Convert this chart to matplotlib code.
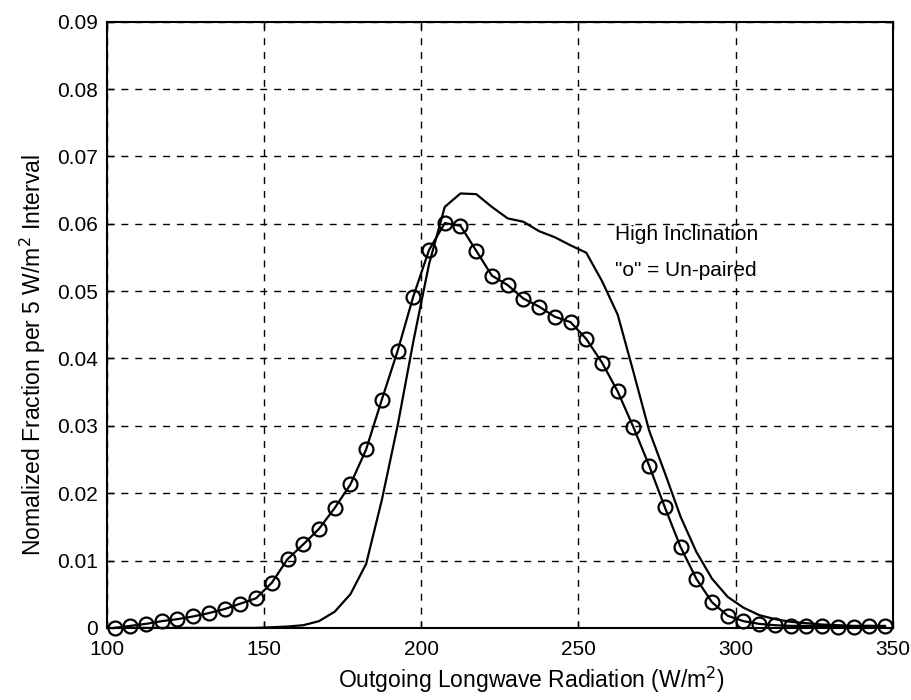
import numpy as np
import matplotlib
matplotlib.use('Agg')
import matplotlib.pyplot as plt

# bin centres of the 5 W/m^2 intervals
olr = np.arange(102.5, 350, 5)

unpaired = [0.0, 0.0003, 0.0006, 0.0010, 0.0013, 0.0017, 0.0022, 0.0028, 0.0036, 0.0044,
            0.0067, 0.0102, 0.0124, 0.0147, 0.0178, 0.0213, 0.0265, 0.0339, 0.0411, 0.0492,
            0.0561, 0.0601, 0.0597, 0.0560, 0.0523, 0.0509, 0.0489, 0.0477, 0.0462, 0.0454,
            0.0429, 0.0394, 0.0351, 0.0298, 0.0241, 0.0179, 0.0120, 0.0073, 0.0038, 0.0018,
            0.0010, 0.0006, 0.0004, 0.0003, 0.0003, 0.0003, 0.0002, 0.0002, 0.0003, 0.0003]

paired = [0.0, 0.0, 0.0, 0.0, 0.0, 0.0, 0.0, 0.0, 0.0, 0.0,
          0.0001, 0.0002, 0.0004, 0.0010, 0.0024, 0.0050, 0.0095, 0.0190, 0.0300, 0.0425,
          0.0540, 0.0625, 0.0645, 0.0644, 0.0625, 0.0608, 0.0603, 0.0589, 0.0580, 0.0568,
          0.0557, 0.0515, 0.0465, 0.0380, 0.0293, 0.0230, 0.0165, 0.0113, 0.0073, 0.0046,
          0.0030, 0.0019, 0.0013, 0.0009, 0.0007, 0.0005, 0.0004, 0.0003, 0.0003, 0.0002]

xticks = [100, 150, 200, 250, 300, 350]
yticks = [0, 0.01, 0.02, 0.03, 0.04, 0.05, 0.06, 0.07, 0.08, 0.09]
ytick_labels = ['0', '0.01', '0.02', '0.03', '0.04', '0.05', '0.06', '0.07', '0.08', '0.09']

plt.rcParams['font.family'] = ['Liberation Sans', 'DejaVu Sans']

fig = plt.figure(figsize=(9.12, 7.0), dpi=100)
ax = fig.add_axes([0.117, 0.103, 0.862, 0.866])

ax.plot(olr, paired, color='black', linewidth=1.6, clip_on=False)
ax.plot(olr, unpaired, color='black', linewidth=1.6, marker='o', markersize=10,
        markerfacecolor='none', markeredgewidth=1.6, clip_on=False)

ax.set_xlim(100, 350)
ax.set_ylim(0, 0.09)
ax.set_xticks(xticks)
ax.set_yticks(yticks)
ax.set_yticklabels(ytick_labels)
ax.grid(True, color='black', linestyle=(0, (5, 5)), linewidth=1.0)
ax.tick_params(direction='in', top=True, right=True, labelsize=15, length=5, width=1)
ax.tick_params(axis='x', pad=9)
ax.tick_params(axis='y', pad=6)
for s in ax.spines.values():
    s.set_linewidth(1.5)

ax.text(261.5, 0.0584, 'High Inclination', fontsize=15, va='center')
ax.text(261.5, 0.0530, '"o" = Un-paired', fontsize=15, va='center')

ax.set_xlabel('Outgoing Longwave Radiation (W/m$^2$)', fontsize=16.5, x=0.54, labelpad=4)
ax.set_ylabel('Nomalized Fraction per 5 W/m$^2$ Interval', fontsize=16.5, y=0.45, labelpad=7)

fig.savefig('out.png', dpi=100)
